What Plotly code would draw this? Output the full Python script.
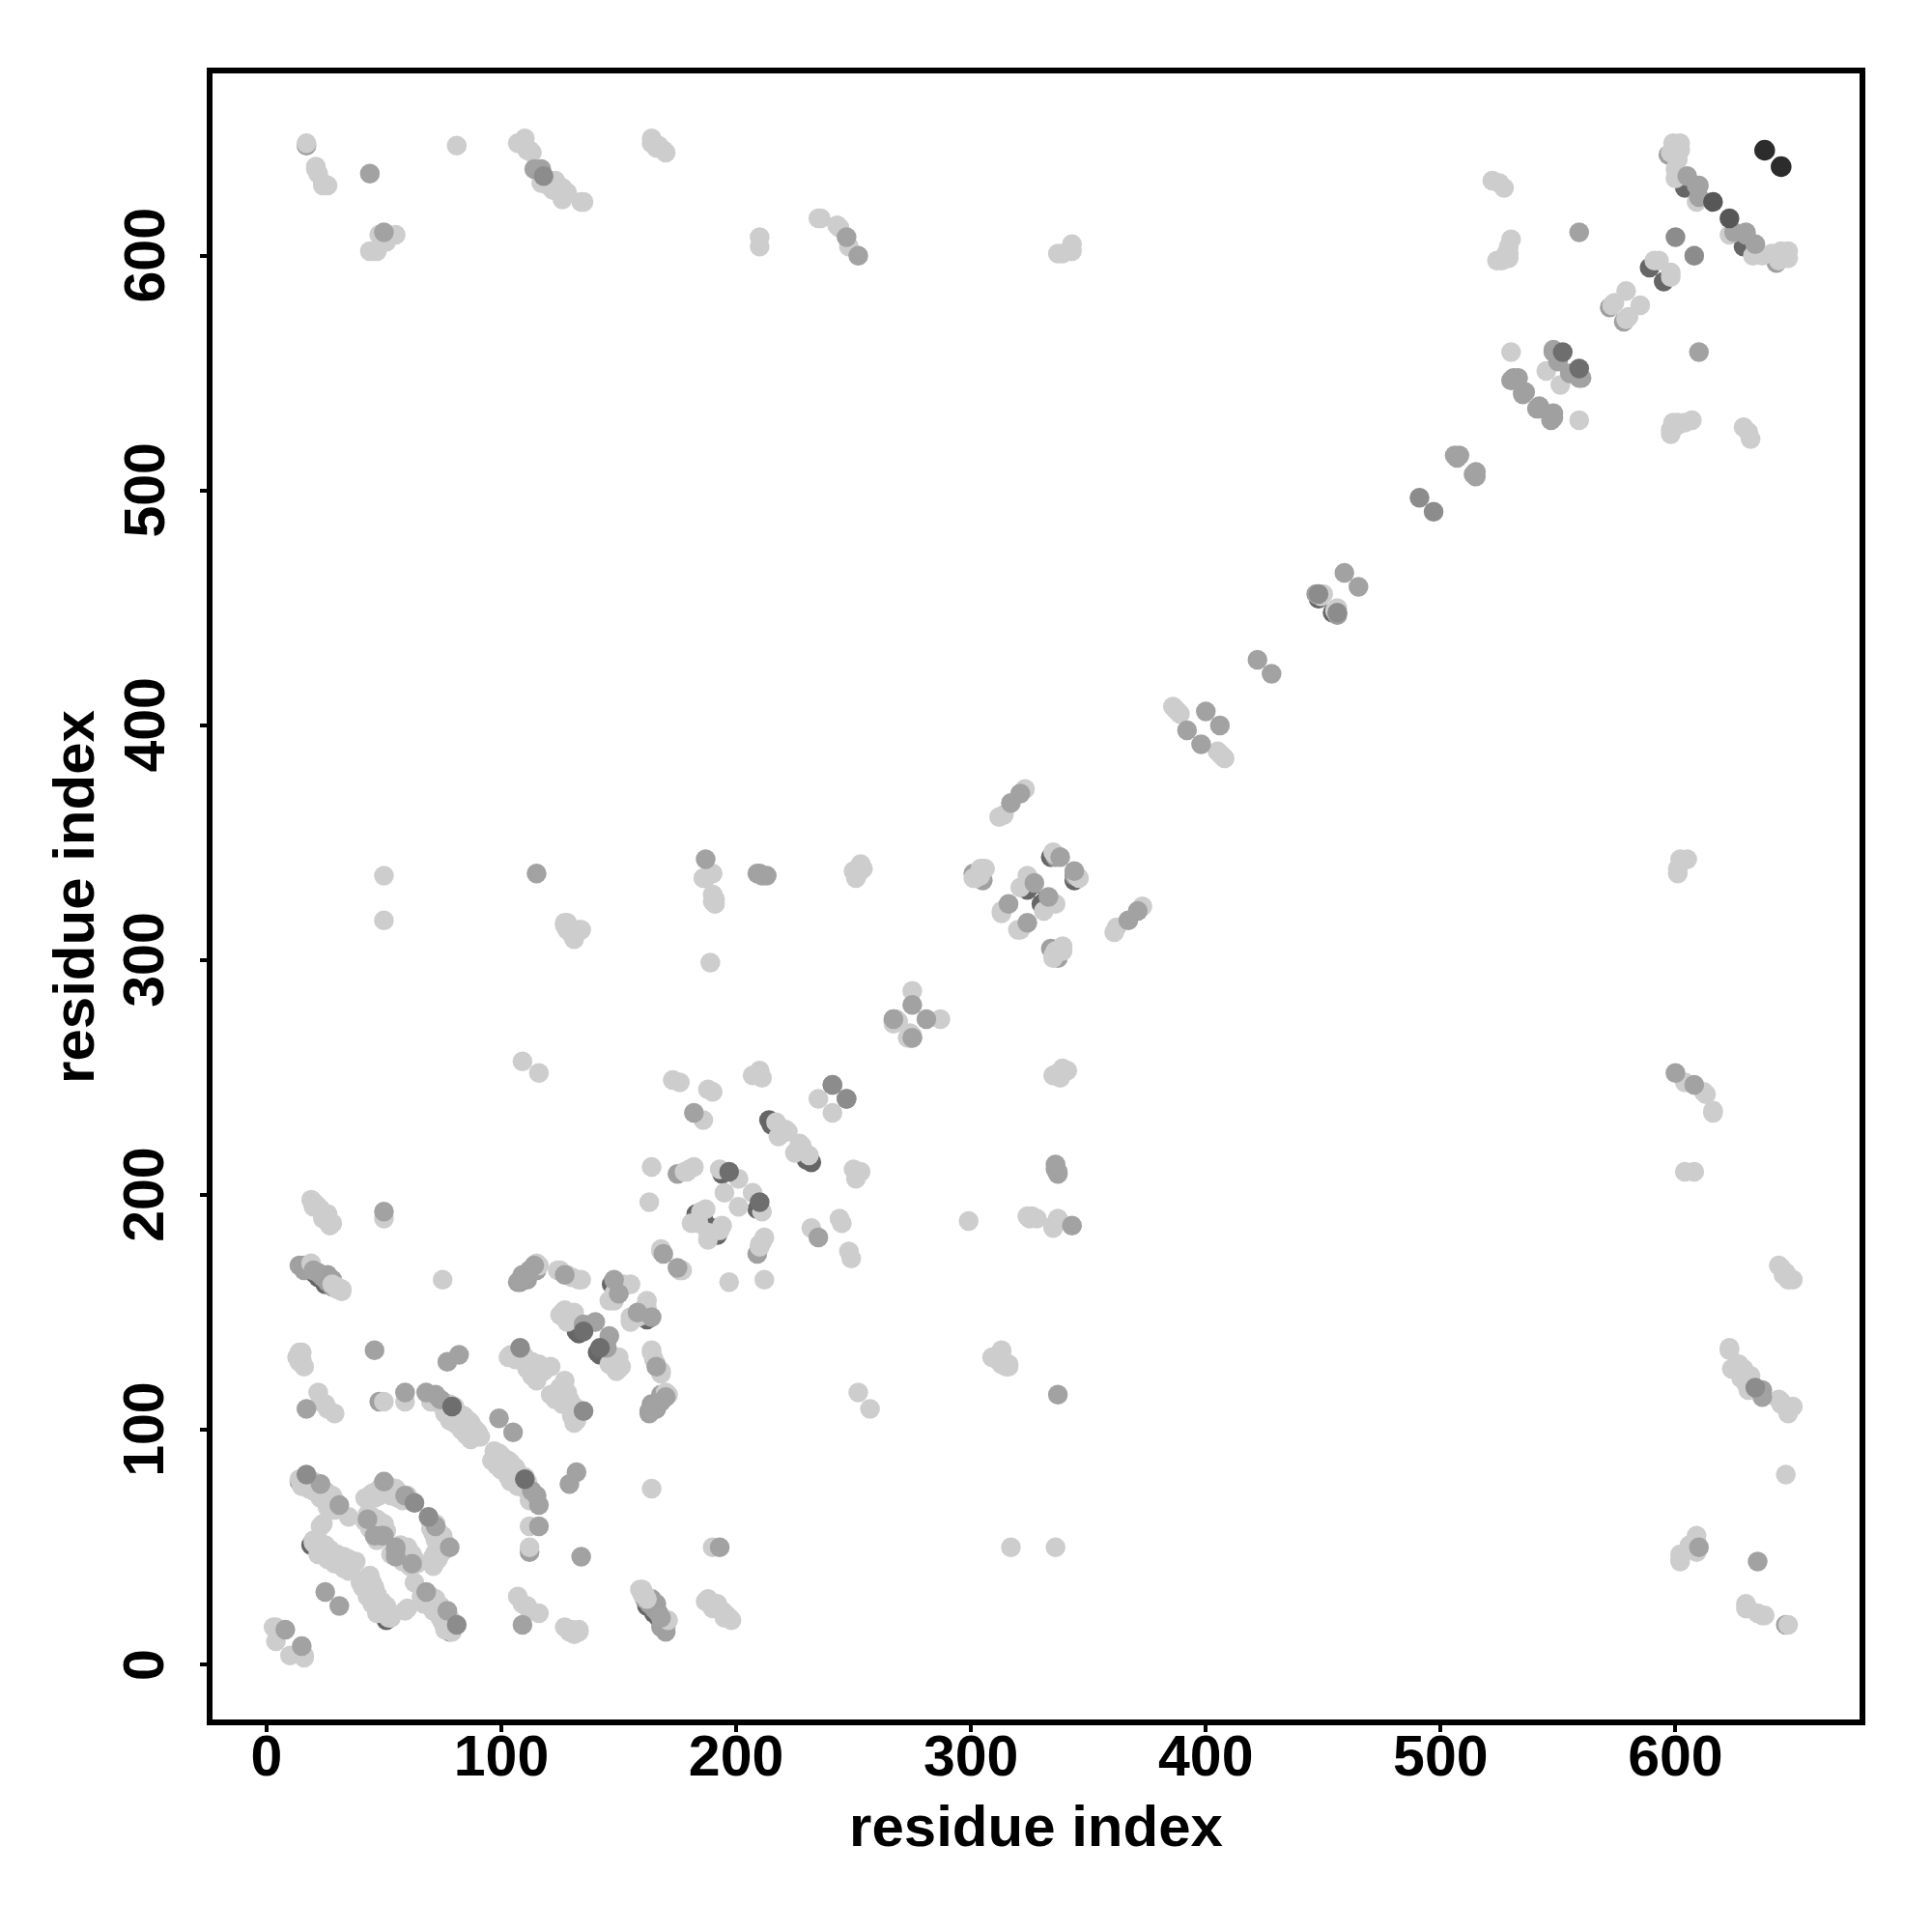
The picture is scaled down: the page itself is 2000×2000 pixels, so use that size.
import plotly.graph_objects as go

# Contact pairs (residue i, residue j); each pair is shown on both sides of the diagonal.
under_dark_i = [19, 47, 46, 75, 78, 133, 132, 147, 20, 22, 25, 214, 215, 183, 186, 194, 604, 589, 448, 324, 326, 334]
under_dark_j = [51, 58, 56, 112, 110, 141, 142, 162, 167, 165, 162, 232, 230, 192, 190, 209, 629, 595, 454, 330, 332, 344]

under_mid_i = [36, 14, 48, 16, 14, 18, 23, 26, 28, 108, 110, 112, 108, 109, 175, 267, 267, 305, 301, 336, 597, 572, 531, 535,
               17, 527, 448, 447, 16, 18, 20, 22, 24, 26, 28, 109, 111, 113, 115, 107, 533, 536, 535, 530]
under_mid_j = [42, 78, 112, 170, 170, 169, 166, 163, 161, 163, 165, 167, 130, 132, 209, 274, 275, 334, 337, 344, 643, 578, 548, 542,
               647, 599, 456, 456, 168, 170, 168, 167, 165, 166, 164, 166, 164, 168, 168, 163, 548, 542, 541, 547]

light_i = [4, 4, 3,
           14, 16, 20, 22, 25, 27, 28, 30, 35, 24, 18, 19, 21, 24, 26, 29, 26, 15, 18, 20, 23, 26, 29,
           20, 22, 24, 27, 30, 31, 34, 37, 34, 29, 26, 23, 20, 23, 21, 25, 28, 32, 33, 35, 38, 35, 33, 27, 25, 22, 26, 29, 22,
           42, 47, 44, 52, 55, 57, 44, 47, 50, 49, 51, 48, 60, 61, 45, 49, 52, 54, 56, 43, 45, 46, 48, 44, 46, 48, 51, 53, 55, 58, 42, 44, 47,
           82, 85, 87, 89, 91, 80, 78, 84, 88, 90, 72, 76, 78, 80, 82, 84, 86, 88, 82, 86, 70, 74, 76, 78, 80, 83, 85, 87, 77,
           13, 14, 16, 15, 15, 14,
           22, 23, 26, 29, 25, 50, 59, 75,
           103, 104, 112, 113, 116, 121, 111, 114, 115, 106, 110, 112, 115, 113, 118, 116,
           127, 129, 126, 131, 128, 148, 155, 125, 128, 131, 148, 151, 149, 152, 146,
           134, 125, 124, 128, 130, 133, 19, 32, 30, 28, 32, 30,
           27, 26, 20, 19, 21, 23, 25, 28, 24, 50, 20, 22, 24, 26, 26,
           116, 115, 168, 168, 173, 176, 190, 188,
           164, 163, 179, 182, 180, 178,
           193, 201, 195, 187, 181, 185, 184,
           217, 221, 219, 218, 222, 235, 186,
           210, 207, 211, 210, 267, 268, 269, 275,
           313, 324, 321, 313, 302, 305, 304, 306, 301, 304, 335, 336,
           314, 312, 323, 387, 389, 386, 388, 449, 450,
           545, 530, 524, 528, 529, 530, 528, 522, 527, 525, 526, 529, 529,
           574, 573, 579, 593, 591,
           599, 602, 600, 598, 600, 600, 602, 601, 609,
           17, 21, 24, 26, 22, 45, 47, 48, 51, 55, 44,
           81, 107, 110, 112, 113, 109,
           117, 120, 124, 126, 128, 135, 122, 123, 126, 111, 108, 110, 134,
           164, 167, 169, 165, 166, 164, 170,
           210, 210, 236, 244, 248, 243, 235,
           337, 339, 343, 343,
           50, 50, 128, 134, 131, 130, 127,
           187, 190, 191, 191, 189, 251, 254, 252,
           109, 116, 133, 131, 128, 127, 130,
           190, 190, 186, 189, 251, 253, 250,
           24, 21]
light_j = [16, 10, 16,
           79, 78, 78, 75, 74, 70, 72, 68, 63, 60, 79, 77, 76, 72, 73, 70, 69, 76, 75, 74, 71, 67, 66,
           53, 52, 49, 47, 47, 44, 44, 43, 42, 46, 48, 50, 52, 59, 51, 48, 45, 43, 41, 40, 44, 45, 46, 49, 51, 53, 45, 43, 47,
           71, 74, 72, 76, 75, 73, 60, 62, 60, 59, 57, 61, 72, 70, 73, 76, 75, 74, 71, 64, 63, 57, 57, 62, 71, 72, 73, 72, 72, 70, 61, 58, 53,
           107, 104, 103, 100, 97, 110, 111, 106, 101, 99, 113, 110, 106, 108, 103, 103, 100, 98, 105, 104, 112, 111, 107, 104, 103, 100, 98, 96, 109,
           131, 129, 127, 133, 130, 133,
           116, 112, 109, 107, 111, 112, 112, 164,
           131, 132, 129, 129, 124, 127, 126, 125, 121, 130, 131, 126, 122, 123, 125, 128,
           151, 148, 150, 147, 149, 155, 162, 149, 146, 150, 158, 160, 161, 162, 155,
           164, 168, 168, 166, 165, 164, 171, 159, 161, 162, 160, 160,
           187, 190, 197, 198, 196, 194, 191, 188, 192, 190, 195, 195, 190, 189, 192,
           170, 171, 176, 177, 249, 248, 244, 245,
           212, 197, 210, 212, 211, 210,
           211, 207, 201, 194, 188, 193, 188,
           231, 228, 226, 225, 227, 241, 232,
           251, 251, 250, 253, 273, 275, 274, 287,
           321, 336, 331, 320, 335, 339, 336, 339, 335, 339, 346, 345,
           362, 361, 373, 407, 405, 408, 406, 455, 456,
           551, 559, 598, 599, 604, 607, 601, 632, 629, 631, 598, 601, 599,
           580, 579, 585, 598, 598,
           648, 648, 647, 644, 637, 633, 645, 641, 623,
           648, 637, 631, 630, 635, 602, 602, 609, 606, 609, 602,
           647, 648, 647, 645, 644, 648,
           631, 630, 630, 624, 627, 623, 628, 632, 629, 645, 648, 650, 623,
           648, 647, 645, 648, 646, 650, 644,
           608, 604, 616, 612, 604, 613, 616,
           601, 601, 602, 605,
           336, 317, 316, 313, 310, 312, 315,
           335, 337, 326, 324, 299, 335, 339, 337,
           257, 252, 313, 309, 313, 316, 311,
           325, 328, 335, 337, 336, 341, 338,
           630, 638]

top_mid_i = [8, 23, 31, 50, 59, 43, 46, 50, 49, 25, 46, 17, 59, 68, 72, 74, 99, 77, 82,
             135, 140, 148, 150, 127, 108, 110, 112, 114, 50, 169, 182, 241, 275, 267,
             316, 327, 338, 317, 321, 400, 392, 459, 422, 506, 508, 507, 548, 550, 548, 550,
             559, 605, 610, 609, 610, 44, 114, 117, 247, 252, 115, 209, 211, 210, 213, 187, 50, 20]
top_mid_j = [15, 77, 68, 78, 72, 62, 55, 55, 55, 31, 134, 109, 116, 116, 115, 113, 105, 129, 132,
             145, 146, 164, 158, 166, 164, 166, 168, 170, 193, 175, 235, 247, 281, 275,
             324, 333, 344, 367, 371, 406, 398, 465, 428, 515, 515, 514, 559, 556, 560, 555,
             610, 634, 630, 630, 625, 635, 637, 637, 608, 600, 337, 337, 336, 337, 336, 343, 610, 168]

mid_dark_i = [63, 108, 600, 17, 491, 241, 448, 118]
mid_dark_j = [69, 135, 608, 81, 497, 247, 456, 634]

top_dark_i = [197, 552, 135, 79]
top_dark_j = [210, 559, 142, 110]

deep_i = [616]
deep_j = [623]

near_black_i = [638]
near_black_j = [645]

tick_values = [0, 100, 200, 300, 400, 500, 600]
axis_label = "residue index"

layers = [
    (under_dark_i, under_dark_j, "#666666", 20.5),
    (under_mid_i, under_mid_j, "#a0a0a0", 20.5),
    (light_i, light_j, "#cdcdcd", 20.5),
    (top_mid_i, top_mid_j, "#a2a2a2", 20.5),
    (mid_dark_i, mid_dark_j, "#8c8c8c", 20.5),
    (top_dark_i, top_dark_j, "#6e6e6e", 20.5),
    (deep_i, deep_j, "#575757", 20.5),
    (near_black_i, near_black_j, "#2c2c2c", 21.5),
]

fig = go.Figure()
for first, second, colour, diameter in layers:
    assert len(first) == len(second)
    fig.add_trace(go.Scatter(
        x=first + second, y=second + first, mode="markers",
        marker=dict(size=diameter, color=colour, line=dict(width=0)),
        showlegend=False, hoverinfo="skip",
    ))

tick_font = dict(family="Liberation Sans", size=59, color="black", weight="bold")
title_font = dict(family="Liberation Sans", size=60, color="black", weight="bold")
axis_style = dict(
    tickvals=tick_values, ticktext=[str(v) for v in tick_values],
    showgrid=False, zeroline=False, showline=True, mirror=True,
    linecolor="black", linewidth=5.5, ticks="outside", ticklen=7,
    tickwidth=4, tickcolor="black", tickfont=tick_font,
)
fig.update_xaxes(range=[-23.0, 678.4], ticklabelstandoff=-26,
                 title=dict(text=axis_label, standoff=21, font=title_font), **axis_style)
fig.update_yaxes(range=[-23.3, 677.7], showticklabels=False, **axis_style)

# Rotated y tick labels and title, centred on their ticks.
for value in tick_values:
    fig.add_annotation(x=-0.0413, xref="paper", xanchor="center", y=value, yref="y", yanchor="middle",
                       text=str(value), textangle=-90, showarrow=False, font=tick_font)
fig.add_annotation(x=-0.0845, xref="paper", xanchor="center", y=0.5, yref="paper", yanchor="middle",
                   text=axis_label, textangle=-90, showarrow=False, font=title_font)

fig.update_layout(
    width=2000, height=2000, autosize=False,
    margin=dict(l=219.5, r=74.5, t=75.5, b=219.5, autoexpand=False),
    paper_bgcolor="white", plot_bgcolor="white",
)
fig.write_html("out.html", config={"displayModeBar": False},
               post_script="document.body.style.margin='0';")
